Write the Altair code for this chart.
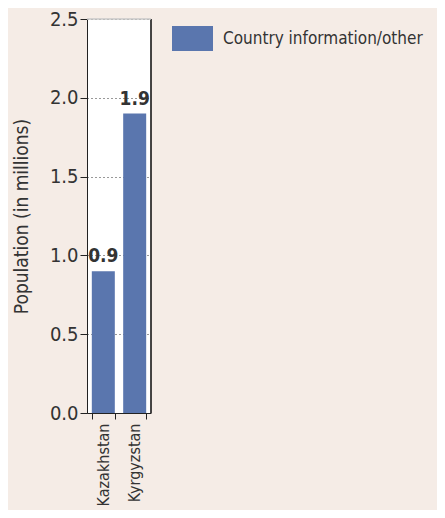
import altair as alt
import pandas as pd

countries = ["Kazakhstan", "Kyrgyzstan"]
population = [0.9, 1.9]
labels = ["0.9", "1.9"]
series = ["Country information/other", "Country information/other"]
y_ticks = [0.0, 0.5, 1.0, 1.5, 2.0, 2.5]

df = pd.DataFrame({"country": countries, "pop": population, "label": labels, "series": series})

FONT = "DejaVu Sans Condensed, Liberation Sans Narrow, sans-serif"
TXT = "#333333"

x_enc = alt.X("country:N", sort=countries,
              scale=alt.Scale(paddingInner=0.28, paddingOuter=0.16),
              axis=alt.Axis(title=None, labelAngle=-90, labelAlign="right", labelBaseline="middle",
                            labelFontSize=16, labelColor=TXT, labelFont=FONT, labelPadding=4,
                            tickBand="extent", tickSize=6, tickColor="#222", domainColor="#222",
                            grid=False))
y_enc = alt.Y("pop:Q", scale=alt.Scale(domain=[0, 2.5], nice=False),
              axis=alt.Axis(values=y_ticks, format=".1f", title="Population (in millions)",
                            titleFontSize=19, titleFontWeight="normal", titleColor=TXT, titleFont=FONT,
                            titlePadding=18,
                            labelFontSize=20, labelColor=TXT, labelFont=FONT, labelPadding=2,
                            tickSize=7, tickColor="#222", domainColor="#222",
                            grid=True, gridColor="#333", gridDash=[1, 3], gridWidth=1))

bars = alt.Chart(df).mark_bar(size=23).encode(
    x=x_enc, y=y_enc,
    color=alt.Color("series:N", scale=alt.Scale(range=["#5a76ae"]),
                    legend=alt.Legend(title=None, orient="none", legendX=85, legendY=-1,
                                      symbolType="M-1,-0.61H1V0.61H-1Z", symbolSize=1681,
                                      symbolStrokeWidth=0, symbolOpacity=1,
                                      labelFontSize=17, labelColor=TXT, labelFont=FONT,
                                      labelLimit=0, labelOffset=10, padding=0)),
)

text = alt.Chart(df).mark_text(baseline="bottom", dy=-5, fontSize=19, fontWeight="bold",
                               font=FONT, color=TXT).encode(
    x=alt.X("country:N", sort=countries), y="pop:Q", text="label:N")

right_border = alt.Chart(df).mark_rule(color="#222", strokeWidth=1.2).encode(
    x=alt.value(64), y=alt.value(0), y2=alt.value(394))
top_border = alt.Chart(df).mark_rule(color="#c8c8c8", strokeWidth=1).encode(
    x=alt.value(0), x2=alt.value(64), y=alt.value(0))

chart = alt.layer(bars, text, right_border, top_border).properties(
    width=64, height=394,
    autosize=alt.AutoSizeParams(type="none"),
    padding={"left": 79, "top": 11, "right": 286, "bottom": 97},
    background="#f5ece6",
).configure_view(fill="white", stroke=None)

chart.save("out.html", embed_options={"renderer": "svg", "actions": False})
